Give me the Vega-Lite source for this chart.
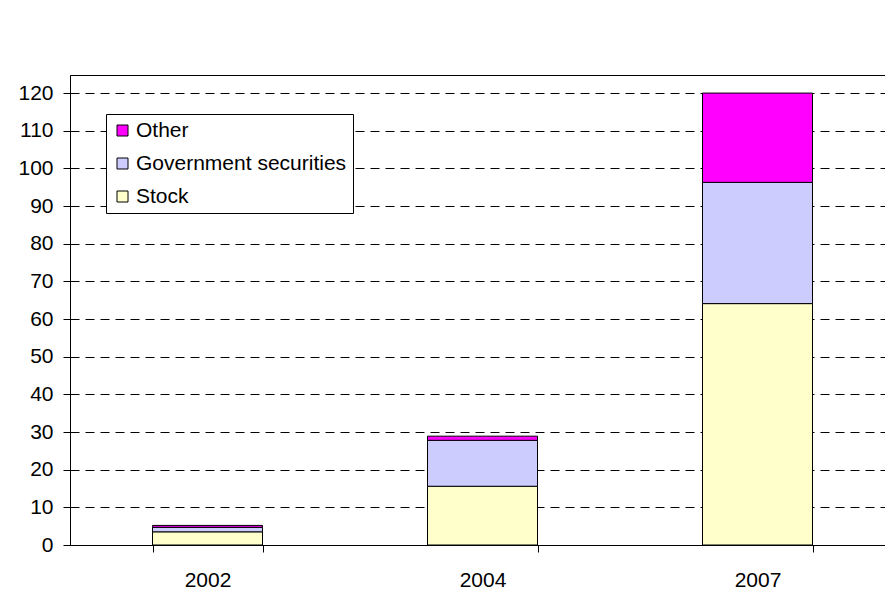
{
  "$schema": "https://vega.github.io/schema/vega-lite/v6.json",
  "autosize": {"type": "none"},
  "padding": {"left": 70, "top": 75, "right": -10, "bottom": 47},
  "width": 825,
  "height": 470,
  "background": "white",
  "config": {
    "view": {"stroke": "#000000", "strokeWidth": 1},
    "font": "Liberation Sans"
  },
  "data": {
    "values": [
      {"year": "2002", "series": "Stock", "rank": 1, "value": 3.5},
      {"year": "2002", "series": "Government securities", "rank": 2, "value": 1.2},
      {"year": "2002", "series": "Other", "rank": 3, "value": 0.5},
      {"year": "2004", "series": "Stock", "rank": 1, "value": 15.6},
      {"year": "2004", "series": "Government securities", "rank": 2, "value": 12.2},
      {"year": "2004", "series": "Other", "rank": 3, "value": 1.1},
      {"year": "2007", "series": "Stock", "rank": 1, "value": 64.1},
      {"year": "2007", "series": "Government securities", "rank": 2, "value": 32.2},
      {"year": "2007", "series": "Other", "rank": 3, "value": 23.7}
    ]
  },
  "mark": {"type": "bar", "stroke": "#000000", "strokeWidth": 1},
  "encoding": {
    "x": {
      "field": "year",
      "type": "nominal",
      "scale": {"paddingInner": 0.6, "paddingOuter": 0.3},
      "axis": {
        "title": null,
        "labelAngle": 0,
        "labelFontSize": 21,
        "labelColor": "#000000",
        "labelPadding": 17,
        "tickBand": "extent",
        "tickSize": 7,
        "tickColor": "#000000",
        "domainColor": "#000000",
        "grid": false
      }
    },
    "y": {
      "field": "value",
      "type": "quantitative",
      "stack": "zero",
      "scale": {"domain": [0, 124.8], "nice": false},
      "axis": {
        "title": null,
        "values": [0, 10, 20, 30, 40, 50, 60, 70, 80, 90, 100, 110, 120],
        "labelFontSize": 21,
        "labelColor": "#000000",
        "labelPadding": 10,
        "tickSize": 7,
        "tickColor": "#000000",
        "domainColor": "#000000",
        "grid": true,
        "gridColor": "#000000",
        "gridDash": [9, 6],
        "gridWidth": 1
      }
    },
    "color": {
      "field": "series",
      "type": "nominal",
      "scale": {
        "domain": ["Other", "Government securities", "Stock"],
        "range": ["#FF00FF", "#CCCCFF", "#FFFFCC"]
      },
      "legend": {
        "title": null,
        "orient": "none",
        "legendX": 36,
        "legendY": 39,
        "fillColor": "#FFFFFF",
        "strokeColor": "#000000",
        "padding": 6,
        "rowPadding": 11,
        "symbolType": "square",
        "symbolSize": 121,
        "symbolStrokeColor": "#000000",
        "symbolStrokeWidth": 1,
        "symbolOffset": 0,
        "labelFontSize": 21,
        "labelColor": "#000000",
        "labelOffset": 3,
        "labelLimit": 400
      }
    },
    "order": {"field": "rank", "type": "quantitative"}
  }
}
